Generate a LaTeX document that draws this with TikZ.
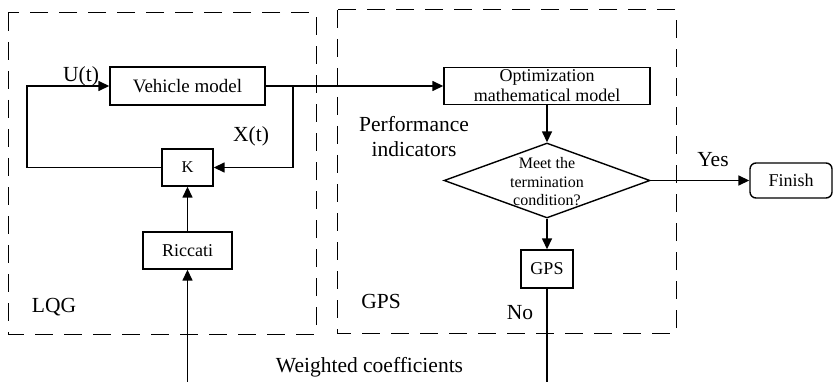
\documentclass[tikz,border=0pt]{standalone}
\usepackage{fontspec}
\setmainfont{Liberation Serif}
\usetikzlibrary{arrows.meta,shapes.geometric}

\begin{document}
\begin{tikzpicture}[x=1pt,y=-1pt,
  box/.style={draw, line width=1.4pt, inner sep=0pt, font=\fontsize{18}{20}\selectfont},
  conn/.style={line width=1.5pt, -{Triangle[length=11pt,width=10pt]}},
  plain/.style={line width=1.5pt},
  region/.style={draw, line width=1pt, dash pattern=on 18pt off 11pt},
  lbl/.style={font=\fontsize{21.5}{25}\selectfont, inner sep=0pt, anchor=base},
]
\useasboundingbox (0,0) rectangle (834,382);

% dashed regions
\draw[region] (8,13) rectangle (316,334);
\draw[region] (337,10) rectangle (676,333);

% LQG part
\node[box, minimum width=155, minimum height=38, font=\fontsize{19}{20}\selectfont] (vm) at (187.5,86) {Vehicle model};
\node[box, minimum width=51, minimum height=37, font=\fontsize{16.5}{20}\selectfont] (k) at (187.5,167.5) {K};
\node[box, minimum width=89, minimum height=37] (ric) at (187.5,250.5) {Riccati};

% GPS part
\node[box, minimum width=206, minimum height=37.5, align=center] (opt) at (547,86) {Optimization\\mathematical model};
\node[diamond, draw, line width=1.4pt, minimum width=206, minimum height=75, inner sep=0pt] (dec) at (547,180.5) {};
\node[font=\fontsize{16}{18.5}\selectfont, align=center, inner sep=0pt] (dect) at (547,182) {Meet the\\termination\\condition?};
\node[box, minimum width=52, minimum height=38] (gps) at (547,269) {GPS};
\node[box, rounded corners=6pt, minimum width=82, minimum height=35] (fin) at (791,180.5) {Finish};

% coordinates
\coordinate (split) at (293,86);
\coordinate (fbc) at (27,167.5);
\coordinate (wIn) at (187.5,382);
\coordinate (gOut) at (547,382);

% connectors
\draw[conn] (k.west) -- (fbc) |- (vm.west);
\draw[plain] (vm.east) -- (split);
\draw[conn] (split) |- (k.east);
\draw[conn] (split) -- (opt.west);
\draw[conn] (ric.north) -- (k.south);
\draw[conn] (wIn) -- (ric.south);
\draw[conn] (opt.south) -- (dec.north);
\draw[conn] (dec.south) -- (gps.north);
\draw[conn] (dec.east) -- (fin.west);
\draw[plain] (gps.south) -- (gOut);

% labels
\node[lbl] (ut) at (81,82) {U(t)};
\node[lbl] (xt) at (251,142) {X(t)};
\node[lbl] (perf1) at (414,132) {Performance};
\node[lbl] (perf2) at (414,157) {indicators};
\node[lbl] (lqg) at (54,312) {LQG};
\node[lbl] (gpsl) at (381,308) {GPS};
\node[lbl] (no) at (520,319) {No};
\node[lbl] (yes) at (713,166) {Yes};
\node[lbl] (wc) at (369.5,372) {Weighted coefficients};
\end{tikzpicture}
\end{document}
